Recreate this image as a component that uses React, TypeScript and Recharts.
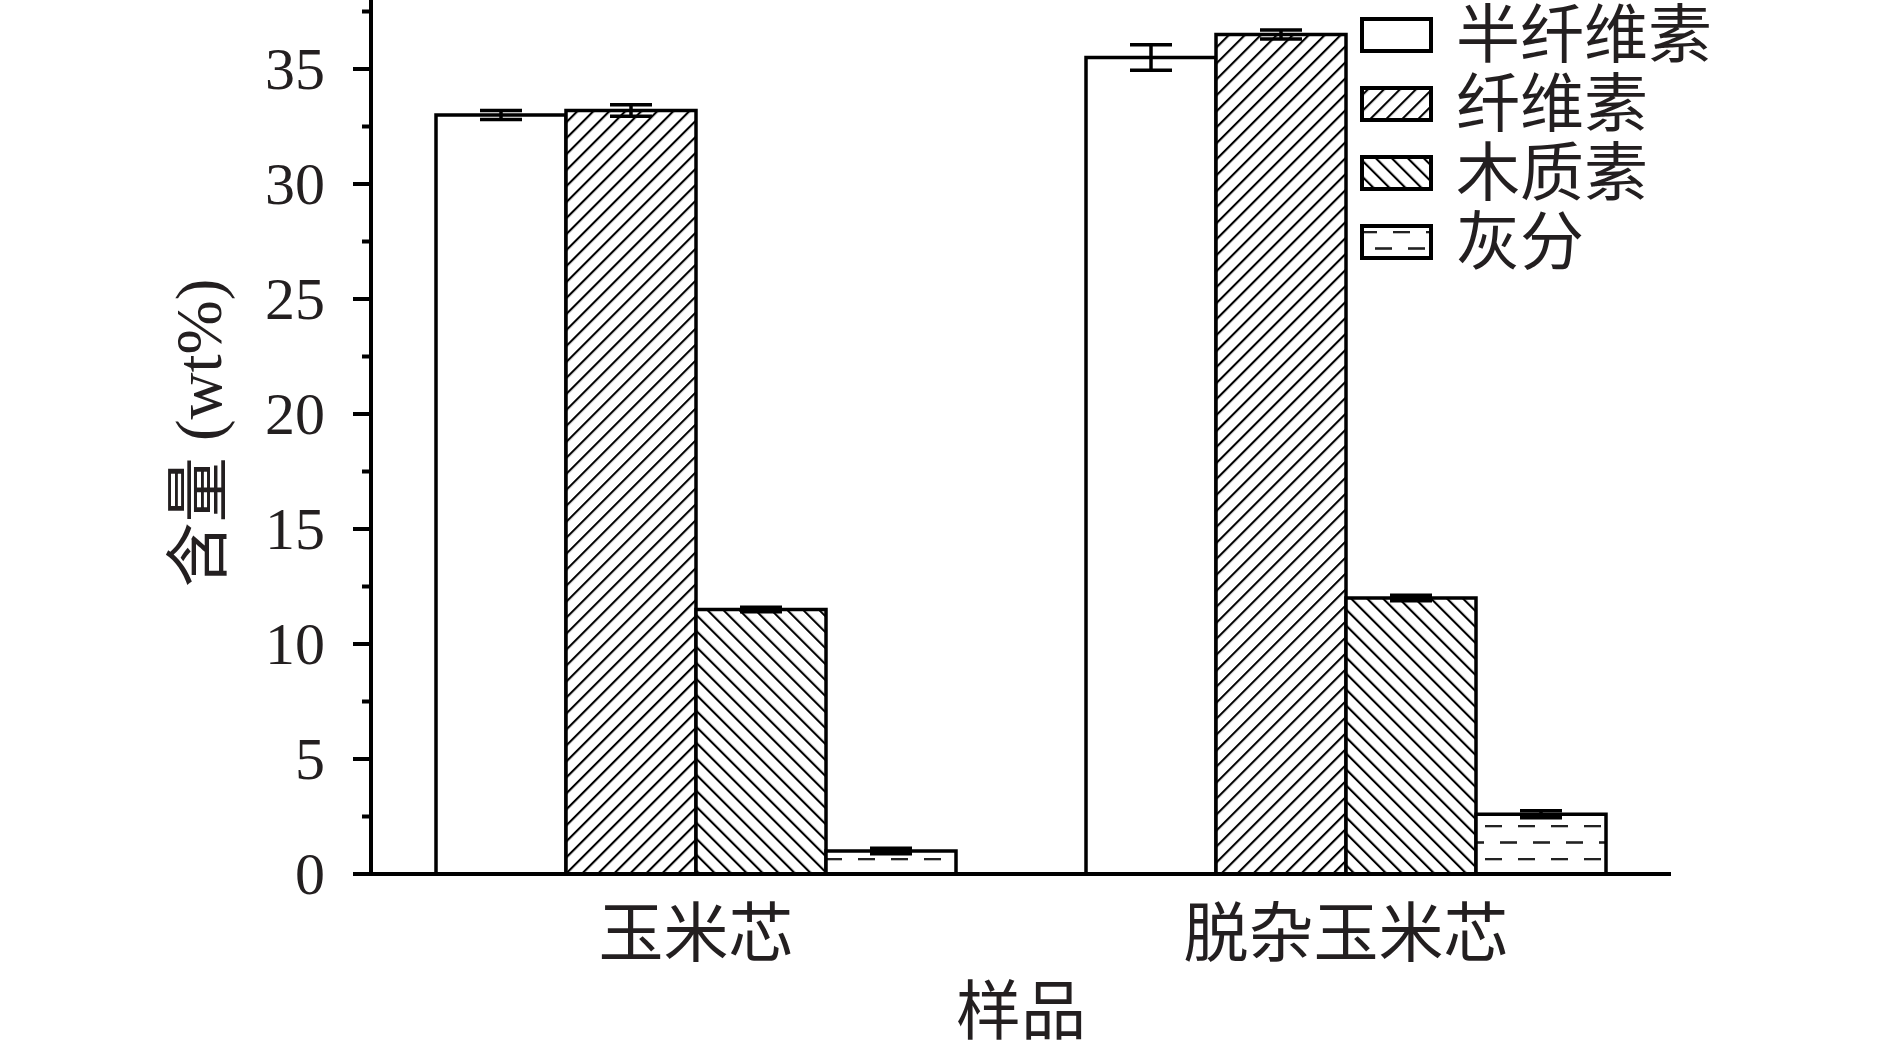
import React from "react";
import { BarChart, Bar, XAxis, YAxis, ErrorBar, Legend } from "recharts";

const categories = ["玉米芯", "脱杂玉米芯"];
const seriesNames = ["半纤维素", "纤维素", "木质素", "灰分"];

const hemicellulose = [33.0, 35.5];
const hemicelluloseErr = [0.2, 0.55];
const cellulose = [33.2, 36.5];
const celluloseErr = [0.25, 0.2];
const lignin = [11.5, 12.0];
const ligninErr = [0.1, 0.12];
const ash = [1.0, 2.6];
const ashErr = [0.12, 0.15];

const yTicks = [0, 2.5, 5, 7.5, 10, 12.5, 15, 17.5, 20, 22.5, 25, 27.5, 30, 32.5, 35, 37.5];

const FONT = '"Liberation Serif", "Noto Sans CJK SC", serif';
const INK = "#231f20";

const fills = ["#ffffff", "url(#hatchFwd)", "url(#hatchBack)", "url(#dashRows)"];
const keys = ["hemi", "cell", "lig", "ash"];

const data = categories.map((name, i) => ({
  name,
  hemi: hemicellulose[i],
  hemiErr: hemicelluloseErr[i],
  cell: cellulose[i],
  cellErr: celluloseErr[i],
  lig: lignin[i],
  ligErr: ligninErr[i],
  ash: ash[i],
  ashErr: ashErr[i],
}));

// patterns shared by bars and legend
function Patterns() {
  return (
    <svg width={0} height={0} style={{ position: "absolute" }}>
      <defs>
        <pattern id="hatchFwd" patternUnits="userSpaceOnUse" width={11.3} height={11.3} patternTransform="rotate(45)">
          <rect width={11.3} height={11.3} fill="#fff" />
          <line x1={0} y1={0} x2={0} y2={11.3} stroke="#000" strokeWidth={4.2} />
        </pattern>
        <pattern id="hatchBack" patternUnits="userSpaceOnUse" width={11.3} height={11.3} patternTransform="rotate(-45)">
          <rect width={11.3} height={11.3} fill="#fff" />
          <line x1={0} y1={0} x2={0} y2={11.3} stroke="#000" strokeWidth={4.2} />
        </pattern>
        <pattern id="dashRows" patternUnits="userSpaceOnUse" width={33} height={33}>
          <rect width={33} height={33} fill="#fff" />
          <line x1={0} y1={1} x2={17} y2={1} stroke="#222" strokeWidth={2.6} />
          <line x1={15} y1={17.5} x2={32} y2={17.5} stroke="#222" strokeWidth={2.6} />
        </pattern>
      </defs>
    </svg>
  );
}

function YTick(props: any) {
  const { x, y, payload } = props;
  const v = payload.value;
  const major = v % 5 === 0;
  return (
    <g>
      <line x1={x - (major ? 18 : 9)} y1={y} x2={x} y2={y} stroke="#000" strokeWidth={4} />
      {major && (
        <text x={x - 46} y={y} textAnchor="end" dominantBaseline="central" fontSize={60} fontFamily={FONT} fill={INK}>
          {v}
        </text>
      )}
    </g>
  );
}

function LegendBox() {
  return (
    <svg width={520} height={280}>
      {seriesNames.map((n, i) => {
        const cy = 35 + i * 69;
        return (
          <g key={n}>
            <rect x={2} y={cy - 16} width={69} height={32} fill={fills[i]} stroke="#000" strokeWidth={4} />
            <text x={96} y={cy} dominantBaseline="central" fontSize={64} fontFamily={FONT} fill={INK}>
              {n}
            </text>
          </g>
        );
      })}
    </svg>
  );
}

export default function App() {
  return (
    <div style={{ position: "absolute", left: 0, top: 0, width: 1890, height: 1054, background: "#fff" }}>
      <Patterns />
      <BarChart
        width={1890}
        height={1054}
        data={data}
        margin={{ top: 0, right: 219, bottom: 0, left: 0 }}
        barCategoryGap="10%"
        barGap={0}
      >
        <XAxis
          dataKey="name"
          height={180}
          tickLine={false}
          tickSize={0}
          tickMargin={36}
          axisLine={{ stroke: "#000", strokeWidth: 4 }}
          tick={{ fontSize: 65, fill: INK, fontFamily: FONT }}
          label={{
            content: (p: any) => {
              const vb = p.viewBox;
              return (
                <text x={vb.x + vb.width / 2} y={vb.y + 138} textAnchor="middle" dominantBaseline="central" fontSize={65} fontFamily={FONT} fill={INK}>
                  样品
                </text>
              );
            },
          }}
        />
        <YAxis
          width={371}
          domain={[0, 38]}
          ticks={yTicks}
          interval={0}
          tickLine={false}
          tickSize={0}
          tickMargin={0}
          axisLine={{ stroke: "#000", strokeWidth: 4 }}
          tick={<YTick />}
          label={{
            content: (p: any) => {
              const vb = p.viewBox;
              const cx = vb.x + 199;
              const cy = vb.y + vb.height / 2 - 4;
              return (
                <text x={cx} y={cy} transform={`rotate(-90 ${cx} ${cy})`} textAnchor="middle" dominantBaseline="central" fontSize={65} fontFamily={FONT} fill={INK}>
                  含量 (wt%)
                </text>
              );
            },
          }}
        />
        <Legend
          layout="vertical"
          align="center"
          verticalAlign="middle"
          content={() => <LegendBox />}
          wrapperStyle={{ left: 1360, top: 0, width: 520, height: 280 }}
        />
        {keys.map((k, i) => (
          <Bar key={k} dataKey={k} name={seriesNames[i]} fill={fills[i]} stroke="#000" strokeWidth={3.5} isAnimationActive={false}>
            <ErrorBar dataKey={`${k}Err`} width={21} strokeWidth={3.5} stroke="#000" direction="y" isAnimationActive={false} />
          </Bar>
        ))}
      </BarChart>
    </div>
  );
}
